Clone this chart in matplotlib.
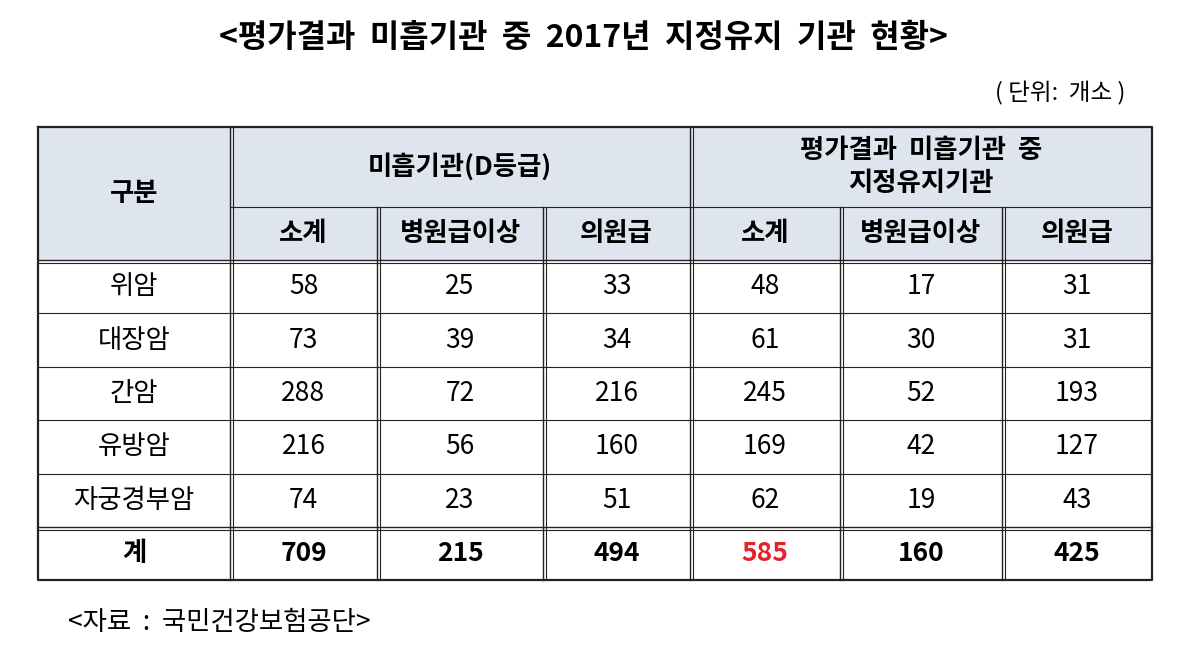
import matplotlib.pyplot as plt

plt.rcParams['font.family'] = ['Noto Sans CJK KR', 'DejaVu Sans']

TITLE = "<평가결과  미흡기관  중  2017년  지정유지  기관  현황>"
UNIT = "( 단위:  개소 )"
SOURCE = "<자료  :  국민건강보험공단>"
GROUPS = ["미흡기관(D등급)", "평가결과  미흡기관  중\n지정유지기관"]
SUBS = ["소계", "병원급이상", "의원급", "소계", "병원급이상", "의원급"]
ROWS = ["위암", "대장암", "간암", "유방암", "자궁경부암", "계"]
VALUES = [
    [58, 25, 33, 48, 17, 31],
    [73, 39, 34, 61, 30, 31],
    [288, 72, 216, 245, 52, 193],
    [216, 56, 160, 169, 42, 127],
    [74, 23, 51, 62, 19, 43],
    [709, 215, 494, 585, 160, 425],
]

W, H = 1178, 651
fig = plt.figure(figsize=(W / 100, H / 100), dpi=100)
ax = fig.add_axes([0, 0, 1, 1])
ax.set_xlim(0, W)
ax.set_ylim(H, 0)
ax.axis("off")

cols = [38, 230, 377, 543, 690, 840, 1002, 1152]
h0, h1, h2 = 127, 207, 260
rh = 53.4
rows_y = [h2 + i * rh for i in range(len(ROWS) + 1)]
bottom = rows_y[-1]
hdr = "#dfe5ee"

ax.add_patch(plt.Rectangle((cols[0], h0), cols[-1] - cols[0], h2 - h0, color=hdr, lw=0))
lc = "#222222"

# outer frame
ax.plot([cols[0], cols[-1], cols[-1], cols[0], cols[0]], [h0, h0, bottom, bottom, h0], color=lc, lw=1.6)
# vertical lines
for i, x in enumerate(cols[1:-1], start=1):
    top = h0 if i in (1, 4) else h1
    ax.plot([x, x], [top, bottom], color=lc, lw=1.0)
    ax.plot([x + 3, x + 3], [top, bottom], color=lc, lw=0.8)
# horizontal lines
ax.plot([cols[1], cols[-1]], [h1, h1], color=lc, lw=0.8)
ax.plot([cols[0], cols[-1]], [h2, h2], color=lc, lw=1.0)
ax.plot([cols[0], cols[-1]], [h2 + 3, h2 + 3], color=lc, lw=0.8)
for y in rows_y[1:-2]:
    ax.plot([cols[0], cols[-1]], [y, y], color=lc, lw=0.8)
y = rows_y[-2]
ax.plot([cols[0], cols[-1]], [y, y], color=lc, lw=1.0)
ax.plot([cols[0], cols[-1]], [y + 3, y + 3], color=lc, lw=0.8)

fs = 19
ax.text(W / 2 - 6, 38, TITLE, ha="center", va="center", fontsize=23, fontweight="bold")
ax.text(1125, 93, UNIT, ha="right", va="center", fontsize=17)
ax.text(68, 622, SOURCE, ha="left", va="center", fontsize=19)

ax.text((cols[0] + cols[1]) / 2, (h0 + h2) / 2, "구분", ha="center", va="center", fontsize=fs, fontweight="bold")
ax.text((cols[1] + cols[4]) / 2, (h0 + h1) / 2, GROUPS[0], ha="center", va="center", fontsize=fs, fontweight="bold")
ax.text((cols[4] + cols[7]) / 2, (h0 + h1) / 2, GROUPS[1], ha="center", va="center", fontsize=fs,
        fontweight="bold", linespacing=1.3)
for j, s in enumerate(SUBS):
    ax.text((cols[j + 1] + cols[j + 2]) / 2, (h1 + h2) / 2, s, ha="center", va="center", fontsize=fs, fontweight="bold")

for i, name in enumerate(ROWS):
    yc = (rows_y[i] + rows_y[i + 1]) / 2
    total = i == len(ROWS) - 1
    ax.text((cols[0] + cols[1]) / 2, yc, name, ha="center", va="center", fontsize=fs,
            fontweight="bold" if total else "normal")
    for j, v in enumerate(VALUES[i]):
        color = "#e8202a" if (total and j == 3) else "black"
        ax.text((cols[j + 1] + cols[j + 2]) / 2, yc, str(v), ha="center", va="center", fontsize=fs,
                fontweight="bold" if total else "normal", color=color)

fig.savefig("out.png", dpi=100)
